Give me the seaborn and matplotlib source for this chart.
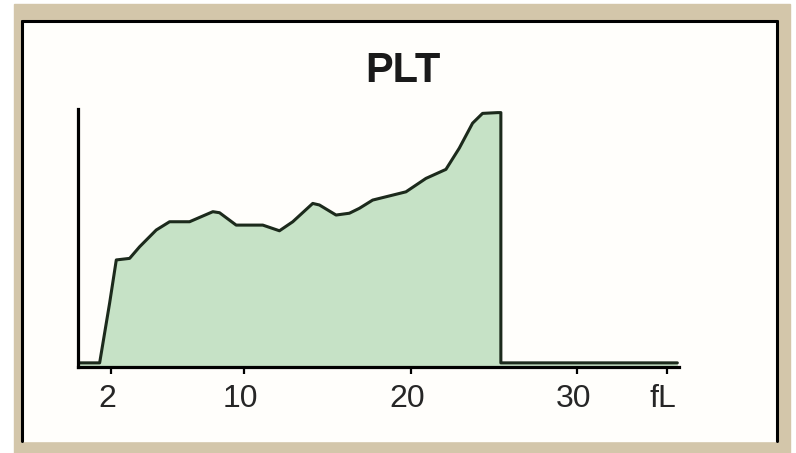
import numpy as np
import seaborn as sns
import matplotlib.pyplot as plt
from matplotlib.patches import Rectangle
from matplotlib.lines import Line2D
import matplotlib.transforms as mtransforms

# PLT histogram, volume in fL vs relative count
volume = [0.0, 1.3, 1.9, 2.3, 3.1, 3.7, 4.7, 5.5, 6.7, 8.1, 8.5, 9.5, 11.1, 12.1,
          12.9, 14.1, 14.5, 15.5, 16.3, 16.9, 17.7, 18.7, 19.7, 20.9, 22.1, 22.9,
          23.7, 24.3, 25.2, 25.4, 25.4, 36.0]
count = [1.6, 1.6, 24.8, 41.5, 42.1, 46.6, 53.1, 56.3, 56.3, 60.2, 59.8, 55.0, 55.0,
         52.8, 56.3, 63.4, 62.8, 58.9, 59.6, 61.5, 64.7, 66.3, 67.9, 73.1, 76.6,
         84.8, 94.5, 98.3, 98.6, 98.6, 1.6, 1.6]
tick_pos = [2, 10, 20, 30, 35.4]
tick_lab = ['2', '10', '20', '30', 'fL']

sns.set_style("white")
plt.rcParams['font.family'] = ['Liberation Sans', 'DejaVu Sans']

W, H = 796, 453
fig = plt.figure(figsize=(W / 100, H / 100), dpi=100)
fig.patch.set_facecolor('white')

# tan frame + white panel, behind the axes
fig.patches.append(Rectangle((14 / W, 0), (790 - 14) / W, 1 - 4 / H,
                             transform=fig.transFigure, color='#d3c6aa', zorder=-3))
fig.patches.append(Rectangle((22 / W, 1 - 441 / H), (777 - 22) / W, (441 - 21) / H,
                             transform=fig.transFigure, color='#fffefb', zorder=-2))
for xs, ys in [([22, 22], [441, 21]), ([22, 777], [21, 21]), ([777, 777], [21, 441])]:
    fig.lines.append(Line2D([x / W for x in xs], [1 - y / H for y in ys],
                            transform=fig.transFigure, color='black', lw=2.2, zorder=-1))

ax = fig.add_axes([78 / W, 1 - 367 / H, (679 - 78) / W, (367 - 109) / H])
ax.set_facecolor('none')

ax.fill_between(volume, 0, count, color='#c6e2c6', lw=0)
sns.lineplot(x=volume, y=count, sort=False, estimator=None, ax=ax,
             color='#1c2a1c', lw=2.2)

ax.set_xlim(0, 36.1)
ax.set_ylim(0, 100)
for s in ['top', 'right']:
    ax.spines[s].set_visible(False)
for s in ['left', 'bottom']:
    ax.spines[s].set_color('black')
    ax.spines[s].set_linewidth(2.3)

ax.set_yticks([])
ax.set_xticks(tick_pos)
ax.set_xticklabels(tick_lab, fontsize=23)
ax.tick_params(axis='x', direction='out', length=5, width=1.6, color='black', pad=7,
               bottom=True)
off = mtransforms.ScaledTranslation(-4 / 100, 0, fig.dpi_scale_trans)
for lab in ax.get_xticklabels():
    lab.set_transform(lab.get_transform() + off)

fig.text(403 / W, 1 - 82 / H, 'PLT', ha='center', va='baseline',
         fontsize=30, fontweight='bold', color='#1a1a1a')

fig.savefig('out.png', dpi=100)
